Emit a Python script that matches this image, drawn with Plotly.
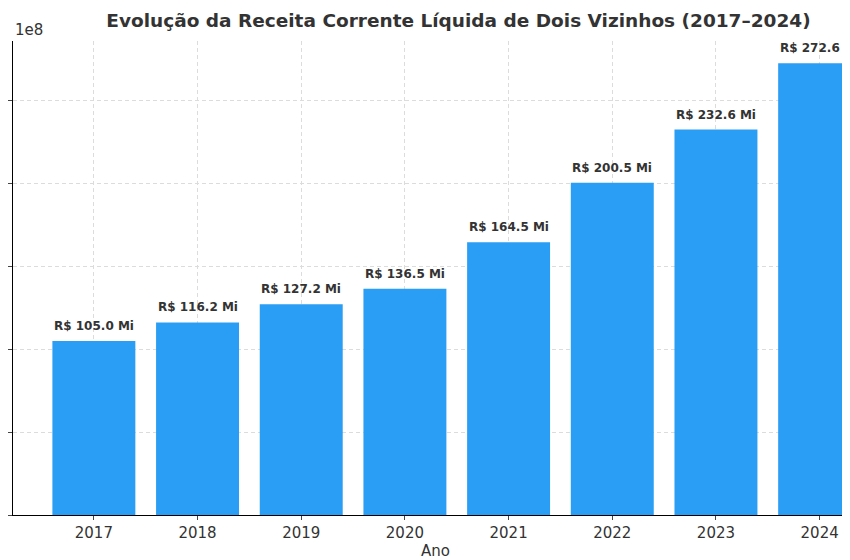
import plotly.graph_objects as go

anos = ["2017", "2018", "2019", "2020", "2021", "2022", "2023", "2024"]
receita = [105.0e6, 116.2e6, 127.2e6, 136.5e6, 164.5e6, 200.5e6, 232.6e6, 272.6e6]
rotulos = [f"R$ {v/1e6:.1f} Mi" for v in receita]
xs = list(range(len(anos)))

fig = go.Figure(go.Bar(x=xs, y=receita, width=0.8, marker=dict(color="#2a9df4", line_width=0)))
for x, y, t in zip(xs, receita, rotulos):
    fig.add_annotation(x=x, y=y, text=f"<b>{t}</b>", showarrow=False, yanchor="bottom",
                       yshift=6, font=dict(family="DejaVu Sans", size=12, color="#333333"))
fig.update_layout(
    width=850, height=560, plot_bgcolor="white", paper_bgcolor="white",
    margin=dict(l=5, r=0, t=33, b=53, pad=0, autoexpand=False),
    title=dict(text="<b>Evolução da Receita Corrente Líquida de Dois Vizinhos (2017–2024)</b>",
               x=0.53, xanchor="center", y=0.99, yanchor="top",
               font=dict(family="DejaVu Sans", size=18.5, color="#333333")),
    font=dict(family="DejaVu Sans", color="#333333"),
    xaxis=dict(tickmode="array", tickvals=xs, ticktext=anos, range=[-0.78, 7.37],
               showgrid=True, gridcolor="#dcdcdc", griddash="4px,3px",
               showline=True, linecolor="black", ticks="outside", ticklen=4,
               tickfont=dict(size=15), title=dict(text="Ano", font=dict(size=15), standoff=4)),
    yaxis=dict(range=[0, 286e6], tickvals=[0, 50e6, 100e6, 150e6, 200e6, 250e6],
               showticklabels=False, ticks="outside", ticklen=4,
               showgrid=True, gridcolor="#dcdcdc", griddash="4px,3px",
               showline=True, linecolor="black", zeroline=False),
    showlegend=False,
)
fig.add_annotation(text="1e8", xref="paper", yref="paper", x=0, y=1.0, xanchor="left",
                   yanchor="bottom", showarrow=False, font=dict(size=15, color="#333333"))
fig.write_html("out.html")
